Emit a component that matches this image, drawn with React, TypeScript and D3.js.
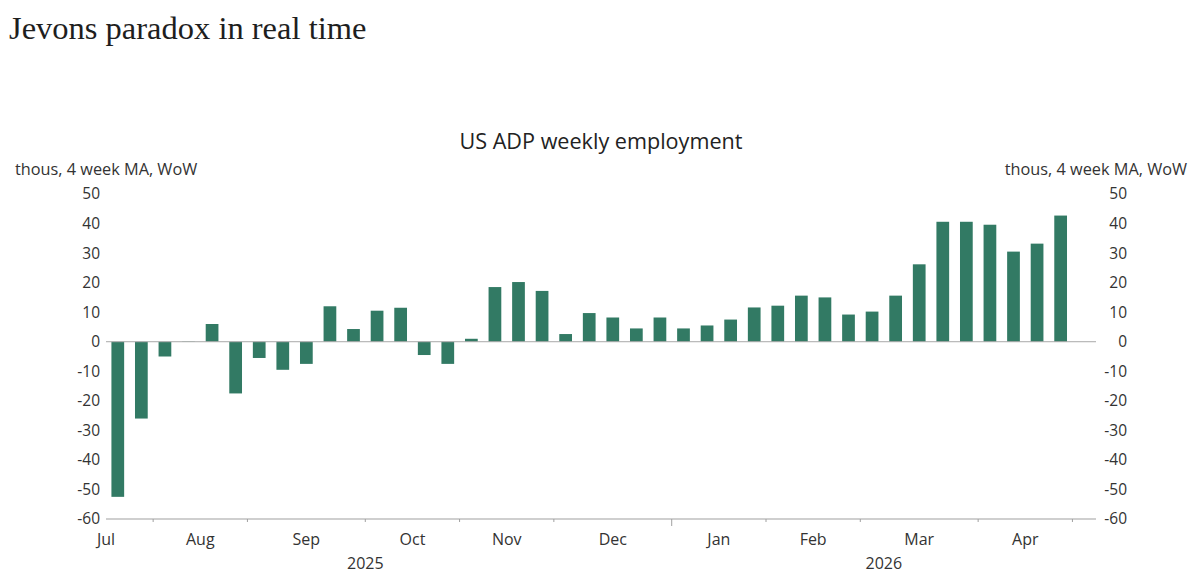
import * as d3 from "d3";

// weekly ADP series, 4 week moving average, WoW change (thous)
const weeks = [
  "2025-07-21", "2025-07-28",
  "2025-08-04", "2025-08-11", "2025-08-18", "2025-08-25",
  "2025-09-01", "2025-09-08", "2025-09-15", "2025-09-22", "2025-09-29",
  "2025-10-06", "2025-10-13", "2025-10-20", "2025-10-27",
  "2025-11-03", "2025-11-10", "2025-11-17", "2025-11-24",
  "2025-12-01", "2025-12-08", "2025-12-15", "2025-12-22", "2025-12-29",
  "2026-01-05", "2026-01-12", "2026-01-19", "2026-01-26",
  "2026-02-02", "2026-02-09", "2026-02-16", "2026-02-23",
  "2026-03-02", "2026-03-09", "2026-03-16", "2026-03-23", "2026-03-30",
  "2026-04-06", "2026-04-13", "2026-04-20", "2026-04-27",
];

const values = [
  -52.5, -26, -5, 0.1, 6, -17.5, -5.5, -9.5, -7.5, 12, 4.3,
  10.5, 11.5, -4.5, -7.5, 1, 18.5, 20.2, 17.2, 2.6, 9.7,
  8.2, 4.5, 8.2, 4.5, 5.5, 7.5, 11.6, 12.2, 15.6, 15,
  9.2, 10.2, 15.6, 26.2, 40.6, 40.6, 39.6, 30.5, 33.2, 42.7,
];

// first week of each month (label groups), last entry closes April
const monthStarts = [
  "2025-07-07", "2025-08-04", "2025-09-01", "2025-10-06", "2025-11-03",
  "2025-12-01", "2026-01-05", "2026-02-02", "2026-03-02", "2026-04-06",
  "2026-05-04",
];
const monthLabels = ["Jul", "Aug", "Sep", "Oct", "Nov", "Dec", "Jan", "Feb", "Mar", "Apr"];

const years = ["2025", "2026"];
const yearStarts = ["2025-07-07", "2026-01-05", "2026-05-11"];

const yTicks = [50, 40, 30, 20, 10, 0, -10, -20, -30, -40, -50, -60];

const width = 1200;
const height = 587;
const barColor = "#327a64";
const textColor = "#333333";
const font = "'Open Sans', sans-serif";

const parse = (s: string) => new Date(s + "T00:00:00Z");

export default function App() {
  const x = d3.scaleUtc()
    .domain([parse("2025-07-21"), parse("2026-05-11")])
    .range([106, 1096]);

  const y = d3.scaleLinear()
    .domain([-60, 50])
    .range([519, 194]);

  const slot = x(d3.utcDay.offset(parse(weeks[0]), 7)) - x(parse(weeks[0]));
  const barW = slot * 0.54;
  const [xMin, xMax] = x.range();

  return (
    <svg width={width} height={height} style={{ position: "absolute", left: 0, top: 0, background: "#fff" }}>
      <text x={9} y={39} fontFamily="'Liberation Serif', serif" fontSize={32.5} fill="#1e1e1e">
        Jevons paradox in real time
      </text>

      <text x={601} y={149} textAnchor="middle" fontFamily={font} fontSize={21.6} fill="#222">
        US ADP weekly employment
      </text>

      <text x={15} y={175} fontFamily={font} fontSize={16.3} fill={textColor}>
        thous, 4 week MA, WoW
      </text>
      <text x={1187} y={175} textAnchor="end" fontFamily={font} fontSize={16.3} fill={textColor}>
        thous, 4 week MA, WoW
      </text>

      {yTicks.map((t) => (
        <g key={t} fontFamily={font} fontSize={15.5} fill={textColor}>
          <text x={100} y={y(t)} dy="0.35em" textAnchor="end">{t}</text>
          <text x={1127} y={y(t)} dy="0.35em" textAnchor="end">{t}</text>
        </g>
      ))}

      {weeks.map((w, i) => {
        const v = values[i];
        const x0 = x(parse(w)) + (slot - barW) / 2;
        return (
          <rect
            key={w}
            x={x0}
            width={barW}
            y={Math.min(y(v), y(0))}
            height={Math.abs(y(v) - y(0))}
            fill={barColor}
          />
        );
      })}

      <line x1={xMin} x2={xMax} y1={y(0)} y2={y(0)} stroke="#a8a8a8" strokeWidth={1} />
      <line x1={xMin} x2={xMax} y1={y(-60)} y2={y(-60)} stroke="#a0a0a0" strokeWidth={1.2} />

      {monthStarts.map((m) => {
        const px = x(parse(m));
        if (px <= xMin || px >= xMax) return null;
        const long = yearStarts.includes(m);
        return (
          <line key={m} x1={px} x2={px} y1={y(-60)} y2={y(-60) + (long ? 7 : 3)} stroke="#a0a0a0" strokeWidth={1} />
        );
      })}

      {monthLabels.map((m, i) => {
        const cx = (x(parse(monthStarts[i])) + x(parse(monthStarts[i + 1]))) / 2;
        return (
          <text key={m} x={cx} y={545} textAnchor="middle" fontFamily={font} fontSize={16} fill={textColor}>
            {m}
          </text>
        );
      })}

      {years.map((yr, i) => {
        const cx = (x(parse(yearStarts[i])) + x(parse(yearStarts[i + 1]))) / 2;
        return (
          <text key={yr} x={cx} y={569} textAnchor="middle" fontFamily={font} fontSize={16} fill={textColor}>
            {yr}
          </text>
        );
      })}
    </svg>
  );
}
